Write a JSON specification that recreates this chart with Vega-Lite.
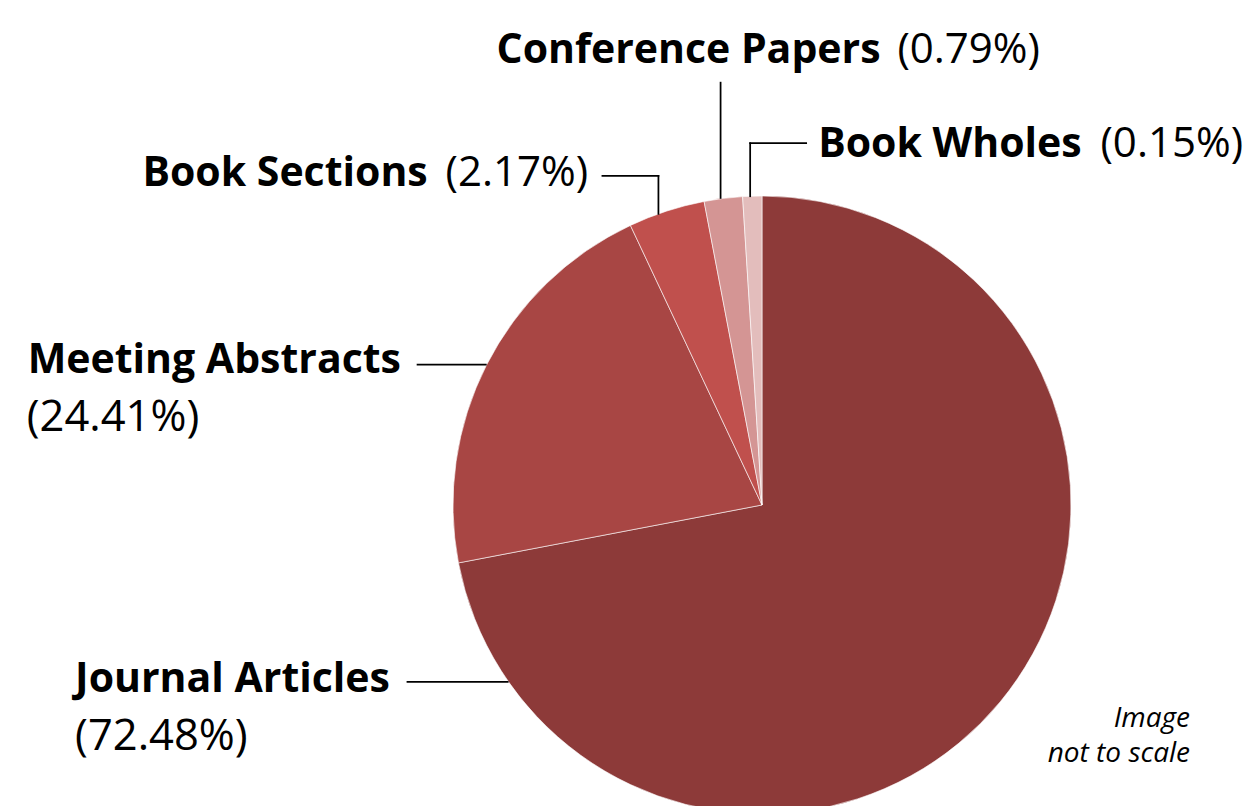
{
  "$schema": "https://vega.github.io/schema/vega-lite/v6.json",
  "width": 1248,
  "height": 806,
  "padding": 0,
  "autosize": {"type": "none"},
  "background": "#ffffff",
  "config": {"view": {"stroke": null}, "font": "Open Sans", "text": {"color": "#000000", "font": "Open Sans"}},
  "layer": [
    {
      "data": {"values": [
        {"order": 1, "type": "Journal Articles", "pct": 72.48, "sliceShare": 72},
        {"order": 2, "type": "Meeting Abstracts", "pct": 24.41, "sliceShare": 21},
        {"order": 3, "type": "Book Sections", "pct": 2.17, "sliceShare": 4},
        {"order": 4, "type": "Conference Papers", "pct": 0.79, "sliceShare": 2},
        {"order": 5, "type": "Book Wholes", "pct": 0.15, "sliceShare": 1}
      ]},
      "transform": [
        {"window": [{"op": "sum", "field": "sliceShare", "as": "end"}], "sort": [{"field": "order"}], "frame": [null, 0]},
        {"calculate": "datum.end - datum.sliceShare", "as": "start"},
        {"calculate": "'(' + format(datum.pct, '.2f') + '%)'", "as": "pctLabel"}
      ],
      "layer": [
        {
          "mark": {"type": "arc", "outerRadius": 309, "stroke": "#ffffff", "strokeWidth": 0.6},
          "encoding": {
            "x": {"datum": 0, "type": "quantitative", "scale": {"domain": [-2.466019, 1.572816], "nice": false, "zero": false}, "axis": null},
            "y": {"datum": 0, "type": "quantitative", "scale": {"domain": [-0.97411, 1.634304], "nice": false, "zero": false}, "axis": null},
            "theta": {"field": "start", "type": "quantitative", "stack": null, "scale": {"domain": [0, 100], "range": [0, 6.283185307179586], "zero": false, "nice": false}},
            "theta2": {"field": "end"},
            "color": {"field": "type", "type": "nominal", "legend": null,
              "scale": {"domain": ["Journal Articles", "Meeting Abstracts", "Book Sections", "Conference Papers", "Book Wholes"],
                        "range": ["#8d3a39", "#a84644", "#c0504d", "#d49594", "#e3bdbc"]}}
          }
        },
        {
          "transform": [
            {"filter": "datum.type === 'Journal Articles'"},
            {"calculate": "(datum.start + 0.907 * (datum.end - datum.start)) * PI / 50", "as": "a"},
            {"calculate": "sin(datum.a)", "as": "ax"},
            {"calculate": "cos(datum.a)", "as": "ay"}
          ],
          "encoding": {
            "x": {"field": "ax", "type": "quantitative", "scale": {"domain": [-2.466019, 1.572816], "nice": false, "zero": false}, "axis": null},
            "y": {"field": "ay", "type": "quantitative", "scale": {"domain": [-0.97411, 1.634304], "nice": false, "zero": false}, "axis": null}
          },
          "layer": [
            {"mark": {"type": "rule", "x2Offset": -102, "stroke": "#000000", "strokeWidth": 1.75}, "encoding": {"x2": {"field": "ax"}}},
            {"mark": {"type": "text", "align": "left", "baseline": "alphabetic", "dx": -433.5, "dy": 10, "fontSize": 41, "fontWeight": "bold"}, "encoding": {"text": {"field": "type"}}},
            {"mark": {"type": "text", "align": "left", "baseline": "alphabetic", "dx": -433.5, "dy": 68, "fontSize": 43.5, "fontWeight": "normal"}, "encoding": {"text": {"field": "pctLabel"}}}
          ]
        },
        {
          "transform": [
            {"filter": "datum.type === 'Meeting Abstracts'"},
            {"calculate": "(datum.start + 0.5 * (datum.end - datum.start)) * PI / 50", "as": "a"},
            {"calculate": "sin(datum.a)", "as": "ax"},
            {"calculate": "cos(datum.a)", "as": "ay"}
          ],
          "encoding": {
            "x": {"field": "ax", "type": "quantitative", "scale": {"domain": [-2.466019, 1.572816], "nice": false, "zero": false}, "axis": null},
            "y": {"field": "ay", "type": "quantitative", "scale": {"domain": [-0.97411, 1.634304], "nice": false, "zero": false}, "axis": null}
          },
          "layer": [
            {"mark": {"type": "rule", "x2Offset": -70, "stroke": "#000000", "strokeWidth": 1.75}, "encoding": {"x2": {"field": "ax"}}},
            {"mark": {"type": "text", "align": "left", "baseline": "alphabetic", "dx": -459, "dy": 8, "fontSize": 41, "fontWeight": "bold"}, "encoding": {"text": {"field": "type"}}},
            {"mark": {"type": "text", "align": "left", "baseline": "alphabetic", "dx": -460, "dy": 66, "fontSize": 43.5, "fontWeight": "normal"}, "encoding": {"text": {"field": "pctLabel"}}}
          ]
        },
        {
          "transform": [
            {"filter": "datum.type === 'Book Sections'"},
            {"calculate": "(datum.start + 0.39 * (datum.end - datum.start)) * PI / 50", "as": "a"},
            {"calculate": "sin(datum.a)", "as": "ax"},
            {"calculate": "cos(datum.a)", "as": "ay"}
          ],
          "encoding": {
            "x": {"field": "ax", "type": "quantitative", "scale": {"domain": [-2.466019, 1.572816], "nice": false, "zero": false}, "axis": null},
            "y": {"field": "ay", "type": "quantitative", "scale": {"domain": [-0.97411, 1.634304], "nice": false, "zero": false}, "axis": null}
          },
          "layer": [
            {"mark": {"type": "rule", "y2Offset": -38, "stroke": "#000000", "strokeWidth": 1.75, "strokeCap": "square"}, "encoding": {"y2": {"field": "ay"}}},
            {"mark": {"type": "rule", "yOffset": -38, "x2Offset": -56, "stroke": "#000000", "strokeWidth": 1.75, "strokeCap": "square"}, "encoding": {"x2": {"field": "ax"}}},
            {"mark": {"type": "text", "align": "left", "baseline": "alphabetic", "dx": -516, "dy": -28, "fontSize": 41, "fontWeight": "bold"}, "encoding": {"text": {"field": "type"}}},
            {"mark": {"type": "text", "align": "right", "baseline": "alphabetic", "dx": -70.3, "dy": -28, "fontSize": 42, "fontWeight": "normal"}, "encoding": {"text": {"field": "pctLabel"}}}
          ]
        },
        {
          "transform": [
            {"filter": "datum.type === 'Conference Papers'"},
            {"calculate": "(datum.start + 0.43 * (datum.end - datum.start)) * PI / 50", "as": "a"},
            {"calculate": "sin(datum.a)", "as": "ax"},
            {"calculate": "cos(datum.a)", "as": "ay"}
          ],
          "encoding": {
            "x": {"field": "ax", "type": "quantitative", "scale": {"domain": [-2.466019, 1.572816], "nice": false, "zero": false}, "axis": null},
            "y": {"field": "ay", "type": "quantitative", "scale": {"domain": [-0.97411, 1.634304], "nice": false, "zero": false}, "axis": null}
          },
          "layer": [
            {"mark": {"type": "rule", "y2Offset": -117, "stroke": "#000000", "strokeWidth": 1.75}, "encoding": {"y2": {"field": "ay"}}},
            {"mark": {"type": "text", "align": "left", "baseline": "alphabetic", "dx": -224, "dy": -136, "fontSize": 41, "fontWeight": "bold"}, "encoding": {"text": {"field": "type"}}},
            {"mark": {"type": "text", "align": "right", "baseline": "alphabetic", "dx": 319.4, "dy": -136, "fontSize": 42, "fontWeight": "normal"}, "encoding": {"text": {"field": "pctLabel"}}}
          ]
        },
        {
          "transform": [
            {"filter": "datum.type === 'Book Wholes'"},
            {"calculate": "(datum.start + 0.39 * (datum.end - datum.start)) * PI / 50", "as": "a"},
            {"calculate": "sin(datum.a)", "as": "ax"},
            {"calculate": "cos(datum.a)", "as": "ay"}
          ],
          "encoding": {
            "x": {"field": "ax", "type": "quantitative", "scale": {"domain": [-2.466019, 1.572816], "nice": false, "zero": false}, "axis": null},
            "y": {"field": "ay", "type": "quantitative", "scale": {"domain": [-0.97411, 1.634304], "nice": false, "zero": false}, "axis": null}
          },
          "layer": [
            {"mark": {"type": "rule", "y2Offset": -53, "stroke": "#000000", "strokeWidth": 1.75, "strokeCap": "square"}, "encoding": {"y2": {"field": "ay"}}},
            {"mark": {"type": "rule", "yOffset": -53, "x2Offset": 56, "stroke": "#000000", "strokeWidth": 1.75, "strokeCap": "square"}, "encoding": {"x2": {"field": "ax"}}},
            {"mark": {"type": "text", "align": "left", "baseline": "alphabetic", "dx": 68, "dy": -39.5, "fontSize": 41, "fontWeight": "bold"}, "encoding": {"text": {"field": "type"}}},
            {"mark": {"type": "text", "align": "right", "baseline": "alphabetic", "dx": 492.9, "dy": -39.5, "fontSize": 42, "fontWeight": "normal"}, "encoding": {"text": {"field": "pctLabel"}}}
          ]
        }
      ]
    },
    {
      "data": {"values": [{"note": "Image\nnot to scale"}]},
      "mark": {"type": "text", "align": "right", "baseline": "alphabetic", "dx": 428, "dy": 222, "fontSize": 28, "fontStyle": "italic", "lineHeight": 35, "lineBreak": "\n"},
      "encoding": {
        "x": {"datum": 0, "type": "quantitative", "scale": {"domain": [-2.466019, 1.572816], "nice": false, "zero": false}, "axis": null},
        "y": {"datum": 0, "type": "quantitative", "scale": {"domain": [-0.97411, 1.634304], "nice": false, "zero": false}, "axis": null},
        "text": {"field": "note"}
      }
    }
  ]
}
